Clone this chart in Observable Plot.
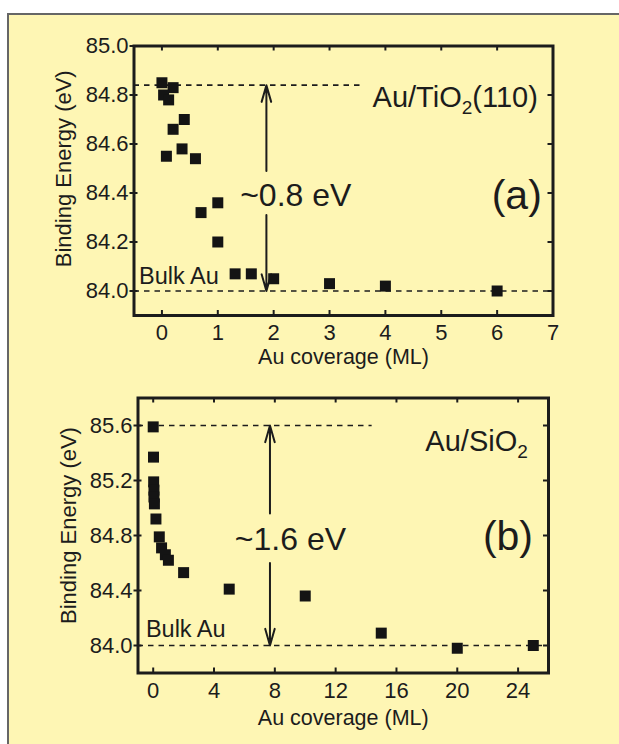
<!DOCTYPE html>
<html>
<head>
<meta charset="utf-8">
<script src="https://cdn.jsdelivr.net/npm/d3@7"></script>
<script src="https://cdn.jsdelivr.net/npm/@observablehq/plot@0.6"></script>
<style>
  html, body { margin: 0; padding: 0; background: #ffffff; width: 619px; height: 744px; overflow: hidden; }
  #box { position: absolute; left: 7px; top: 13px; width: 660px; height: 780px; background: #fef6b4; border: 2px solid #666; }
  .panel { position: absolute; left: 0; }
  #pa { top: 0; }
  #pb { top: 375px; }
</style>
</head>
<body>
<div id="box"></div>
<div id="pa" class="panel"></div>
<div id="pb" class="panel"></div>
<script>
// ---- Panel (a): Au/TiO2(110) ----
const coverageA = [0.0, 0.2, 0.03, 0.12, 0.4, 0.2, 0.08, 0.36, 0.6, 0.7, 1.0, 1.0, 1.31, 1.6, 2.0, 3.0, 4.0, 6.0];
const energyA   = [84.85, 84.83, 84.80, 84.78, 84.70, 84.66, 84.55, 84.58, 84.54, 84.32, 84.36, 84.20, 84.07, 84.07, 84.05, 84.03, 84.02, 84.00];
const xTicksA = [0, 1, 2, 3, 4, 5, 6, 7];
const yTicksA = [84.0, 84.2, 84.4, 84.6, 84.8, 85.0];
const xDomainA = [-0.5, 7];
const yDomainA = [83.9, 85.0];
const bulkA = 84.0, topA = 84.84, topLineEndA = 3.55;
const arrowXA = 1.87, gapA = [84.49, 84.31];
const shiftLabelA = "~0.8 eV", shiftLabelPosA = [1.40, 84.39];
const systemLabelA = "Au/TiO2(110)", systemLabelPosA = [3.77, 84.79];
const panelLabelA = "(a)", panelLabelPosA = [6.8, 84.39];
const bulkLabelPosA = [-0.41, 84.06];

// ---- Panel (b): Au/SiO2 ----
const coverageB = [0.0, 0.02, 0.03, 0.05, 0.05, 0.08, 0.18, 0.4, 0.55, 0.8, 1.0, 2.0, 5.0, 10.0, 15.0, 20.0, 25.0];
const energyB   = [85.59, 85.37, 85.19, 85.13, 85.08, 85.03, 84.92, 84.79, 84.71, 84.66, 84.62, 84.53, 84.41, 84.36, 84.09, 83.98, 84.00];
const xTicksB = [0, 4, 8, 12, 16, 20, 24];
const yTicksB = [84.0, 84.4, 84.8, 85.2, 85.6];
const xDomainB = [-1, 26];
const yDomainB = [83.8, 85.8];
const bulkB = 84.0, topB = 85.6, topLineEndB = 14.4;
const arrowXB = 7.68, gapB = [84.96, 84.60];
const shiftLabelB = "~1.6 eV", shiftLabelPosB = [5.37, 84.77];
const systemLabelB = "Au/SiO2", systemLabelPosB = [17.9, 85.48];
const panelLabelB = "(b)", panelLabelPosB = [24.98, 84.79];
const bulkLabelPosB = [-0.48, 84.12];

const xTitle = "Au coverage (ML)";
const yTitle = "Binding Energy (eV)";
const bulkLabel = "Bulk Au";

const ink = "#1c1c1c";

function panel(o) {
  const W = 619;
  const innerH = o.height - o.mt - o.mb;
  const innerW = W - o.ml - o.mr;
  const pts = o.xs.map((x, i) => ({x, y: o.ys[i]}));
  const arrows = [
    {x: o.arrowX, y1: o.gap[0], y2: o.top},
    {x: o.arrowX, y1: o.gap[1], y2: o.bulk}
  ];
  const dash = {stroke: ink, strokeWidth: 1.7, strokeDasharray: "5.5,5"};
  return Plot.plot({
    width: W, height: o.height,
    marginLeft: o.ml, marginRight: o.mr, marginTop: o.mt, marginBottom: o.mb,
    x: {domain: o.xDomain},
    y: {domain: o.yDomain},
    style: {fontFamily: "'Liberation Sans', Arial, sans-serif", fontSize: "21px", color: ink, background: "transparent", overflow: "visible"},
    marks: [
      Plot.ruleY([o.bulk], dash),
      Plot.ruleY([o.top], {...dash, x1: o.xDomain[0], x2: o.topEnd}),
      Plot.arrow(arrows, {x1: "x", x2: "x", y1: "y1", y2: "y2", stroke: ink, strokeWidth: 2, headLength: 13, headAngle: 32}),
      Plot.dot(pts, {x: "x", y: "y", symbol: "square", r: 6.2, fill: "#141414", stroke: "none"}),
      Plot.frame({stroke: ink, strokeWidth: 3}),
      // inward ticks
      Plot.tickX(o.xTicks, {x: d => d, insetTop: innerH - 5, stroke: ink, strokeWidth: 2}),
      Plot.tickX(o.xTicks, {x: d => d, insetBottom: innerH - 5, stroke: ink, strokeWidth: 2}),
      Plot.tickY(o.yTicks, {y: d => d, insetLeft: innerW - 5, stroke: ink, strokeWidth: 2}),
      Plot.tickY(o.yTicks, {y: d => d, insetRight: innerW - 4, stroke: ink, strokeWidth: 2}),
      Plot.axisX(o.xTicks, {tickSize: 0, tickPadding: 9, label: null, tickFormat: d => String(d), fontSize: 22}),
      Plot.axisY(o.yTicks, {tickSize: 4, tickPadding: 1.5, strokeWidth: 2, label: null, tickFormat: d3.format(".1f"), fontSize: 22}),
      Plot.text([xTitle], {frameAnchor: "bottom", lineAnchor: "middle", textAnchor: "middle", dy: o.xTitleDy, fontSize: 21.5}),
      Plot.text([yTitle], {frameAnchor: "left", lineAnchor: "middle", textAnchor: "middle", rotate: -90, dx: o.yTitleDx, dy: o.yTitleDy, fontSize: 22}),
      Plot.text([o.systemLabel], {x: o.systemPos[0], y: o.systemPos[1], textAnchor: "start", fontSize: 29}),
      Plot.text([o.panelLabel], {x: o.panelPos[0], y: o.panelPos[1], textAnchor: "end", fontSize: 41}),
      Plot.text([o.shiftLabel], {x: o.shiftPos[0], y: o.shiftPos[1], textAnchor: "start", fontSize: 32}),
      Plot.text([bulkLabel], {x: o.bulkPos[0], y: o.bulkPos[1], textAnchor: "start", fontSize: 23.5})
    ]
  });
}

function subscriptTwo(svg, label) {
  svg.querySelectorAll("text").forEach(t => {
    if (t.textContent === label) {
      const i = label.indexOf("O2") + 1;
      const head = label.slice(0, i), sub = label.slice(i, i + 1), tail = label.slice(i + 1);
      t.textContent = "";
      t.appendChild(document.createTextNode(head));
      const s = document.createElementNS("http://www.w3.org/2000/svg", "tspan");
      s.setAttribute("dy", "7");
      s.setAttribute("font-size", "19");
      s.textContent = sub;
      t.appendChild(s);
      if (tail) {
        const r = document.createElementNS("http://www.w3.org/2000/svg", "tspan");
        r.setAttribute("dy", "-7");
        r.textContent = tail;
        t.appendChild(r);
      }
    }
  });
}

const svgA = panel({
  height: 372, ml: 133.5, mr: 66.5, mt: 45.5, mb: 57,
  xs: coverageA, ys: energyA, xDomain: xDomainA, yDomain: yDomainA,
  xTicks: xTicksA, yTicks: yTicksA, bulk: bulkA, top: topA, topEnd: topLineEndA,
  arrowX: arrowXA, gap: gapA,
  shiftLabel: shiftLabelA, shiftPos: shiftLabelPosA,
  systemLabel: systemLabelA, systemPos: systemLabelPosA,
  panelLabel: panelLabelA, panelPos: panelLabelPosA,
  bulkPos: bulkLabelPosA,
  xTitleDy: 42, yTitleDx: -70.5, yTitleDy: -12
});
subscriptTwo(svgA, systemLabelA);
document.getElementById("pa").appendChild(svgA);

const svgB = panel({
  height: 369, ml: 137.5, mr: 71, mt: 22.5, mb: 71.5,
  xs: coverageB, ys: energyB, xDomain: xDomainB, yDomain: yDomainB,
  xTicks: xTicksB, yTicks: yTicksB, bulk: bulkB, top: topB, topEnd: topLineEndB,
  arrowX: arrowXB, gap: gapB,
  shiftLabel: shiftLabelB, shiftPos: shiftLabelPosB,
  systemLabel: systemLabelB, systemPos: systemLabelPosB,
  panelLabel: panelLabelB, panelPos: panelLabelPosB,
  bulkPos: bulkLabelPosB,
  xTitleDy: 45, yTitleDx: -69.5, yTitleDy: -10
});
subscriptTwo(svgB, systemLabelB);
document.getElementById("pb").appendChild(svgB);
</script>
</body>
</html>
